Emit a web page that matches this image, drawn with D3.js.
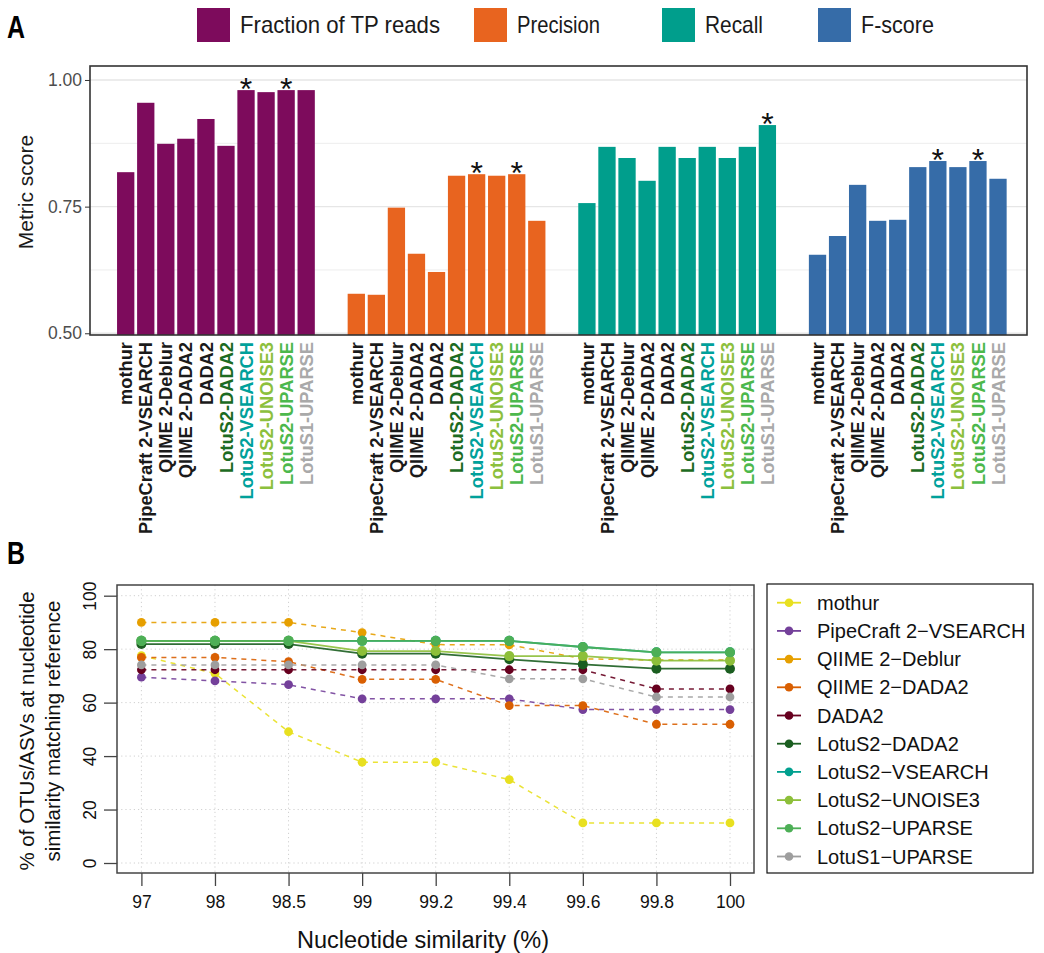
<!DOCTYPE html>
<html>
<head>
<meta charset="utf-8">
<script src="https://cdn.jsdelivr.net/npm/d3@7/dist/d3.min.js"></script>
<style>
  html, body { margin: 0; padding: 0; background: #fff; }
  svg { display: block; font-family: "Liberation Sans", Arial, Helvetica, sans-serif; }
</style>
</head>
<body>
<svg id="chart" width="1044" height="953"></svg>
<script>
// ---------------- DATA ----------------
const methods = ["mothur", "PipeCraft 2-VSEARCH", "QIIME 2-Deblur", "QIIME 2-DADA2", "DADA2",
  "LotuS2-DADA2", "LotuS2-VSEARCH", "LotuS2-UNOISE3", "LotuS2-UPARSE", "LotuS1-UPARSE"];
const methodLabelColors = ["#1a1a1a", "#1a1a1a", "#1a1a1a", "#1a1a1a", "#1a1a1a",
  "#1c6b22", "#00a19b", "#8cc03d", "#4cb84c", "#a9a9a9"];
const metrics = ["Fraction of TP reads", "Precision", "Recall", "F-score"];
const metricColors = ["#7d0b5c", "#e8641f", "#009e8c", "#366ca8"];

const tpReads   = [0.818, 0.955, 0.874, 0.884, 0.923, 0.870, 0.980, 0.976, 0.980, 0.980];
const precision = [0.578, 0.576, 0.748, 0.657, 0.621, 0.811, 0.814, 0.811, 0.814, 0.722];
const recall    = [0.757, 0.868, 0.846, 0.801, 0.868, 0.846, 0.868, 0.846, 0.868, 0.911];
const fscore    = [0.655, 0.692, 0.793, 0.722, 0.724, 0.828, 0.840, 0.828, 0.840, 0.805];
const metricValues = [tpReads, precision, recall, fscore];

// methods marked with an asterisk (best) per metric
const bestTP = ["LotuS2-VSEARCH", "LotuS2-UPARSE"];
const bestPrecision = ["LotuS2-VSEARCH", "LotuS2-UPARSE"];
const bestRecall = ["LotuS1-UPARSE"];
const bestF = ["LotuS2-VSEARCH", "LotuS2-UPARSE"];
const bestSets = [bestTP, bestPrecision, bestRecall, bestF];

const yTicksA = [0.50, 0.75, 1.00];
const yMinorA = [0.625, 0.875];

// Panel B
const similarity = ["97", "98", "98.5", "99", "99.2", "99.4", "99.6", "99.8", "100"];
const lineNames = ["mothur", "PipeCraft 2\u2212VSEARCH", "QIIME 2\u2212Deblur", "QIIME 2\u2212DADA2", "DADA2",
  "LotuS2\u2212DADA2", "LotuS2\u2212VSEARCH", "LotuS2\u2212UNOISE3", "LotuS2\u2212UPARSE", "LotuS1\u2212UPARSE"];
const lineColors = ["#e8e020", "#74409a", "#e69f00", "#d95f02", "#67001f",
  "#1b5e20", "#00a08f", "#8dbf3a", "#4daf56", "#9e9e9e"];
const lineDashed = [true, true, true, true, true, false, false, false, false, true];

const sMothur    = [77.6, 70.9, 49.1, 37.7, 37.7, 31.2, 15.0, 15.0, 15.0];
const sPipeCraft = [69.5, 68.1, 66.7, 61.4, 61.4, 61.4, 57.4, 57.4, 57.4];
const sDeblur    = [90.0, 90.0, 90.0, 86.2, 81.7, 81.6, 76.4, 75.9, 75.9];
const sQiimeDada = [76.9, 76.9, 75.3, 68.7, 68.7, 58.9, 58.9, 51.9, 51.9];
const sDada2     = [72.3, 72.3, 72.3, 72.3, 72.3, 72.3, 72.3, 65.1, 65.1];
const sL2Dada2   = [81.9, 81.9, 81.9, 78.3, 78.3, 76.2, 74.3, 72.7, 72.7];
const sL2Vsearch = [83.1, 83.1, 83.1, 83.1, 83.1, 83.1, 80.8, 78.8, 78.8];
const sL2Unoise  = [83.1, 83.1, 83.1, 79.3, 79.3, 77.4, 77.4, 75.7, 75.7];
const sL2Uparse  = [83.1, 83.1, 83.1, 83.1, 83.1, 83.1, 80.8, 78.8, 78.8];
const sL1Uparse  = [74.1, 74.1, 74.1, 74.1, 74.1, 68.9, 68.9, 62.1, 62.1];
const lineSeries = [sMothur, sPipeCraft, sDeblur, sQiimeDada, sDada2, sL2Dada2, sL2Vsearch, sL2Unoise, sL2Uparse, sL1Uparse];
const yTicksB = [0, 20, 40, 60, 80, 100];

// ---------------- DRAW ----------------
const svg = d3.select("#chart");

// ===== Panel A =====
const A = { left: 90, right: 1027, top: 66, bottom: 335 };
const slotsPerGroup = 11.5;
const xA = d3.scaleLinear().domain([0, 3 * slotsPerGroup + 9]).range([125.7, 998.0]);
const yA = d3.scaleLinear().domain([0.4966, 1.0276]).range([A.bottom, A.top]);
const barW = 17.3;

svg.append("text").attr("x", 7).attr("y", 38).attr("font-size", 31).attr("font-weight", "bold")
  .attr("textLength", 18).attr("lengthAdjust", "spacingAndGlyphs").text("A");

// legend A
const legA = [197, 474, 662, 818];
const legTextW = [200, 83, 58, 73];
metrics.forEach((m, i) => {
  const g = svg.append("g").attr("transform", `translate(${legA[i]},8)`);
  g.append("rect").attr("width", 33).attr("height", 34).attr("fill", metricColors[i]);
  g.append("text").attr("x", 43).attr("y", 25).attr("font-size", 24)
    .attr("textLength", legTextW[i]).attr("lengthAdjust", "spacingAndGlyphs")
    .attr("fill", "#1a1a1a").text(m);
});

const gA = svg.append("g");
// grid
gA.selectAll("line.minor").data(yMinorA).join("line")
  .attr("x1", A.left).attr("x2", A.right).attr("y1", d => yA(d)).attr("y2", d => yA(d))
  .attr("stroke", "#ededed").attr("stroke-width", 1);
gA.selectAll("line.major").data(yTicksA).join("line")
  .attr("x1", A.left).attr("x2", A.right).attr("y1", d => yA(d)).attr("y2", d => yA(d))
  .attr("stroke", "#e6e6e6").attr("stroke-width", 1.4);

// bars
metrics.forEach((m, gi) => {
  const vals = metricValues[gi];
  gA.append("g").selectAll("rect").data(vals).join("rect")
    .attr("x", (d, i) => xA(gi * slotsPerGroup + i) - barW / 2)
    .attr("width", barW)
    .attr("y", d => yA(d))
    .attr("height", d => yA.range()[0] - yA(d))
    .attr("fill", metricColors[gi]);
  // asterisks
  const stars = methods.map((name, i) => ({ i, v: vals[i], on: bestSets[gi].includes(name) })).filter(d => d.on);
  gA.append("g").selectAll("text").data(stars).join("text")
    .attr("x", d => xA(gi * slotsPerGroup + d.i))
    .attr("y", d => yA(d.v) + 10)
    .attr("text-anchor", "middle").attr("font-size", 32).attr("fill", "#111")
    .text("*");
  // x labels
  gA.append("g").selectAll("text").data(methods).join("text")
    .attr("transform", (d, i) => `translate(${xA(gi * slotsPerGroup + i)},342) rotate(-90)`)
    .attr("dy", "0.36em")
    .attr("text-anchor", "end").attr("font-size", 18.3).attr("font-weight", "bold")
    .attr("fill", (d, i) => methodLabelColors[i])
    .text(d => d);
});

// border
gA.append("rect").attr("x", A.left).attr("y", A.top).attr("width", A.right - A.left).attr("height", A.bottom - A.top)
  .attr("fill", "none").attr("stroke", "#333").attr("stroke-width", 1.6);

// y axis A
const axA = gA.append("g").attr("transform", `translate(${A.left},0)`)
  .call(d3.axisLeft(yA).tickValues(yTicksA).tickFormat(d3.format(".2f")).tickSize(5).tickPadding(3));
axA.select(".domain").remove();
axA.selectAll("line").attr("stroke", "#333");
axA.selectAll("text").attr("font-size", 17.5).attr("fill", "#4d4d4d").attr("font-family", "'Liberation Sans', Arial, sans-serif");

svg.append("text").attr("transform", "translate(26,192) rotate(-90)").attr("text-anchor", "middle")
  .attr("dy", "0.35em").attr("font-size", 21).attr("fill", "#1a1a1a").text("Metric score");

// ===== Panel B =====
svg.append("text").attr("x", 7).attr("y", 564).attr("font-size", 31).attr("font-weight", "bold")
  .attr("textLength", 18).attr("lengthAdjust", "spacingAndGlyphs").text("B");

const B = { left: 117, right: 754, top: 585, bottom: 873 };
const xB = d3.scalePoint().domain(similarity).range([141.4, 730]).padding(0);
const yB = d3.scaleLinear().domain([-3.74, 104]).range([B.bottom, B.top]);

const gB = svg.append("g");
// grid (dotted)
gB.selectAll("line.hg").data(yTicksB).join("line")
  .attr("x1", B.left).attr("x2", B.right).attr("y1", d => yB(d)).attr("y2", d => yB(d))
  .attr("stroke", "#d0d0d0").attr("stroke-width", 1).attr("stroke-dasharray", "1.2,3");
gB.selectAll("line.vg").data(similarity).join("line")
  .attr("x1", d => xB(d)).attr("x2", d => xB(d)).attr("y1", B.top).attr("y2", B.bottom)
  .attr("stroke", "#d0d0d0").attr("stroke-width", 1).attr("stroke-dasharray", "1.2,3");

const line = d3.line().x((d, i) => xB(similarity[i])).y(d => yB(d));
lineSeries.forEach((s, k) => {
  gB.append("path").datum(s).attr("d", line).attr("fill", "none")
    .attr("stroke", lineColors[k]).attr("stroke-width", lineDashed[k] ? 1.5 : 1.8)
    .attr("stroke-dasharray", lineDashed[k] ? "5,5" : null).attr("opacity", 0.9);
  gB.append("g").selectAll("circle").data(s).join("circle")
    .attr("cx", (d, i) => xB(similarity[i])).attr("cy", d => yB(d))
    .attr("r", lineDashed[k] ? 4.4 : 5).attr("fill", lineColors[k]);
});

gB.append("rect").attr("x", B.left).attr("y", B.top).attr("width", B.right - B.left).attr("height", B.bottom - B.top)
  .attr("fill", "none").attr("stroke", "#444").attr("stroke-width", 1.5);

// axes B
const axBx = gB.append("g").attr("transform", `translate(0,${B.bottom})`)
  .call(d3.axisBottom(xB).tickSize(13).tickPadding(10));
axBx.select(".domain").remove();
axBx.selectAll("line").attr("stroke", "#444").attr("stroke-width", 1.3);
axBx.selectAll("text").attr("font-size", 17.5).attr("fill", "#111").attr("font-family", "'Liberation Sans', Arial, sans-serif");

const axBy = gB.append("g").attr("transform", `translate(${B.left},0)`)
  .call(d3.axisLeft(yB).tickValues(yTicksB).tickSize(13).tickFormat(d3.format("d")));
axBy.select(".domain").remove();
axBy.selectAll("line").attr("stroke", "#444").attr("stroke-width", 1.3);
axBy.selectAll("text")
  .attr("transform", "rotate(-90)").attr("x", 0).attr("y", -27).attr("dy", "0.35em")
  .attr("text-anchor", "middle").attr("font-size", 17.5).attr("fill", "#111")
  .attr("font-family", "'Liberation Sans', Arial, sans-serif");

svg.append("text").attr("x", 423).attr("y", 948).attr("text-anchor", "middle").attr("font-size", 23.5)
  .attr("fill", "#111").text("Nucleotide similarity (%)");
svg.append("text").attr("transform", "translate(27,731) rotate(-90)").attr("text-anchor", "middle")
  .attr("dy", "0.35em").attr("font-size", 20.5).attr("fill", "#111").text("% of OTUs/ASVs at nucleotide");
svg.append("text").attr("transform", "translate(53,731) rotate(-90)").attr("text-anchor", "middle")
  .attr("dy", "0.35em").attr("font-size", 20.5).attr("fill", "#111").text("similarity matching reference");

// legend B
const LB = { x: 767, y: 584, w: 266, h: 289 };
const gL = svg.append("g");
gL.append("rect").attr("x", LB.x).attr("y", LB.y).attr("width", LB.w).attr("height", LB.h)
  .attr("fill", "#fff").attr("stroke", "#111").attr("stroke-width", 1.2);
lineNames.forEach((n, k) => {
  const yy = 602.7 + k * 28.2;
  gL.append("line").attr("x1", 777).attr("x2", 801).attr("y1", yy).attr("y2", yy)
    .attr("stroke", lineColors[k]).attr("stroke-width", 1.8);
  gL.append("circle").attr("cx", 789).attr("cy", yy).attr("r", 4.3).attr("fill", lineColors[k]);
  gL.append("text").attr("x", 817).attr("y", yy).attr("dy", "0.35em").attr("font-size", 20)
    .attr("fill", "#111").text(n);
});
</script>
</body>
</html>
